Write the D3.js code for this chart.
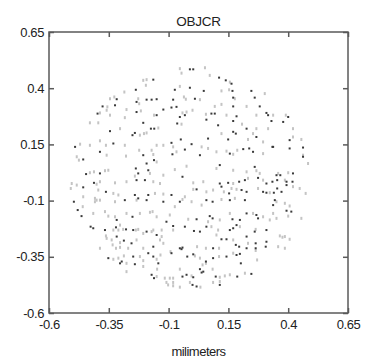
<!DOCTYPE html>
<html>
<head>
<meta charset="utf-8">
<script src="https://cdn.jsdelivr.net/npm/d3@7"></script>
<style>
  html, body { margin: 0; padding: 0; background: #fff; }
  svg text { font-family: "Liberation Sans", Arial, sans-serif; fill: #222; }
</style>
</head>
<body>
<svg id="chart" width="366" height="362"></svg>
<script>
// Axis setup
const tickValues = [-0.6, -0.35, -0.1, 0.15, 0.4, 0.65];
const tickLabels = ["-0.6", "-0.35", "-0.1", "0.15", "0.4", "0.65"];
const titleText = "OBJCR";
const xLabelText = "milimeters";

// Dark points (x, y in millimeters)
const darkX = [-0.011,0.003,0.111,-0.164,0.139,0.163,
  -0.237,-0.011,-0.074,0.047,0.167,0.246,
  -0.317,-0.192,-0.171,-0.150,-0.234,0.010,0.170,0.260,-0.081,-0.324,-0.376,-0.067,0.170,0.281,
  -0.397,-0.234,-0.150,-0.122,-0.088,-0.053,-0.032,0.079,0.093,0.184,0.309,0.316,0.400,
  -0.206,-0.174,-0.160,-0.064,0.058,0.107,0.170,0.226,0.330,0.379,-0.345,-0.251,-0.241,
  -0.331,-0.088,-0.049,-0.004,0.065,0.149,0.170,0.181,0.267,0.337,0.406,-0.491,
  -0.387,-0.206,-0.084,-0.032,0.031,0.156,0.212,0.237,0.253,0.334,0.406,0.462,0.462,-0.457,
  -0.445,-0.387,-0.237,-0.227,-0.192,-0.185,-0.161,0.114,0.260,0.367,0.420,0.351,
  -0.457,-0.412,-0.362,-0.234,-0.199,-0.042,0.114,0.149,0.195,0.219,0.274,0.309,0.334,0.354,0.393,0.418,
  -0.496,-0.241,-0.227,-0.185,-0.088,0.017,0.121,0.153,0.205,0.226,0.295,0.309,0.340,0.354,0.372,0.393,
  -0.283,-0.192,-0.122,-0.053,0.058,0.084,0.156,0.219,0.337,0.344,-0.480,
  -0.464,-0.317,-0.251,-0.109,0.017,0.072,0.084,0.167,0.198,0.226,0.267,0.274,0.393,0.413,
  -0.426,-0.415,-0.366,-0.320,-0.278,-0.248,-0.192,-0.150,-0.081,-0.032,0.006,0.031,0.058,0.121,0.156,0.170,0.184,0.226,0.260,0.309,-0.317,
  -0.287,-0.255,-0.164,-0.053,-0.042,0.086,0.142,0.181,0.195,0.226,0.264,0.264,0.306,0.309,
  -0.352,-0.303,-0.296,-0.248,-0.241,-0.185,-0.164,-0.143,-0.088,-0.046,-0.022,0.003,0.056,0.086,0.142,0.184,0.198,0.202,
  -0.171,-0.161,-0.042,-0.025,0.003,0.031,0.038,0.045,0.097,0.187,0.246,
  0.000,0.017,0.114];
const darkY = [0.484,0.484,0.447,0.438,0.435,0.420,
  0.393,0.402,0.393,0.388,0.388,0.388,
  0.351,0.349,0.349,0.351,0.339,0.353,0.358,0.358,0.349,0.324,0.319,0.317,0.319,0.319,
  0.287,0.294,0.280,0.305,0.314,0.272,0.280,0.287,0.287,0.275,0.290,0.280,0.272,
  0.246,0.220,0.220,0.243,0.260,0.235,0.254,0.220,0.254,0.250,0.209,0.191,0.201,
  0.154,0.157,0.172,0.151,0.176,0.172,0.206,0.198,0.183,0.139,0.169,0.139,
  0.117,0.102,0.106,0.127,0.102,0.109,0.129,0.132,0.117,0.139,0.132,0.136,0.095,0.083,
  0.018,0.021,0.043,0.021,0.065,0.035,0.080,0.058,0.050,0.013,0.021,0.013,
  -0.041,-0.021,-0.061,-0.009,-0.009,0.006,-0.024,-0.021,-0.016,-0.009,0.001,-0.024,-0.016,-0.009,-0.016,-0.016,
  -0.105,-0.075,-0.090,-0.075,-0.075,-0.050,-0.038,-0.068,-0.053,-0.061,-0.061,-0.065,-0.065,-0.046,-0.061,-0.031,
  -0.098,-0.098,-0.105,-0.105,-0.098,-0.105,-0.098,-0.098,-0.120,-0.098,-0.142,
  -0.169,-0.186,-0.172,-0.194,-0.183,-0.169,-0.179,-0.183,-0.186,-0.157,-0.164,-0.179,-0.145,-0.149,
  -0.216,-0.223,-0.231,-0.219,-0.228,-0.231,-0.238,-0.253,-0.213,-0.216,-0.235,-0.238,-0.216,-0.272,-0.231,-0.223,-0.209,-0.260,-0.238,-0.231,-0.260,
  -0.278,-0.290,-0.305,-0.312,-0.309,-0.312,-0.272,-0.297,-0.305,-0.312,-0.290,-0.312,-0.305,-0.283,
  -0.356,-0.379,-0.371,-0.349,-0.383,-0.334,-0.349,-0.379,-0.334,-0.316,-0.349,-0.339,-0.371,-0.356,-0.349,-0.342,-0.337,-0.379,
  -0.430,-0.445,-0.438,-0.430,-0.441,-0.405,-0.420,-0.416,-0.438,-0.438,-0.426,
  -0.475,-0.482,-0.475];

// Gray points (x, y in millimeters)
const grayX = [-0.053,0.052,-0.046,0.072,-0.192,-0.206,0.156,
  -0.195,-0.053,0.121,0.153,0.302,-0.285,
  -0.327,-0.345,-0.227,-0.223,-0.036,-0.028,0.031,0.177,-0.356,0.093,0.121,0.226,
  -0.387,-0.359,-0.345,-0.276,-0.216,-0.161,-0.042,-0.025,0.000,0.056,0.142,0.267,0.337,0.390,
  -0.429,-0.394,-0.283,-0.143,-0.046,0.207,0.267,0.316,0.420,-0.303,-0.220,-0.203,-0.192,
  -0.387,-0.362,-0.283,-0.150,-0.122,-0.081,0.038,0.121,0.232,0.253,0.295,0.420,0.455,-0.470,-0.429,
  -0.359,-0.278,-0.223,-0.171,-0.164,-0.067,0.065,0.100,0.142,0.170,0.187,0.295,0.462,0.483,-0.484,-0.475,
  -0.429,-0.412,-0.366,-0.352,-0.178,-0.150,-0.122,-0.074,-0.025,0.100,0.170,0.226,0.267,0.281,0.358,0.400,
  -0.505,-0.509,-0.484,-0.401,-0.387,-0.324,-0.276,-0.241,-0.164,-0.136,0.003,0.045,0.170,0.232,0.295,0.386,0.420,
  -0.457,-0.408,-0.401,-0.394,-0.331,-0.310,-0.234,-0.157,-0.122,-0.032,0.003,0.058,0.086,0.131,0.163,0.184,0.274,0.323,0.448,0.473,
  -0.459,-0.408,-0.387,-0.324,-0.074,-0.042,-0.004,0.038,0.121,0.177,0.351,0.386,0.406,
  -0.415,-0.366,-0.352,-0.324,-0.276,-0.220,-0.178,-0.167,-0.150,-0.095,-0.018,0.065,0.114,0.156,0.253,0.295,0.323,0.351,0.337,0.400,0.455,
  -0.362,-0.359,-0.331,-0.310,-0.303,-0.290,-0.237,-0.227,-0.206,-0.171,-0.164,-0.129,-0.129,-0.081,0.079,0.100,0.107,0.198,0.264,0.365,0.376,0.386,0.406,-0.303,
  -0.387,-0.338,-0.334,-0.320,-0.303,-0.269,-0.234,-0.206,-0.136,-0.122,-0.092,0.019,0.056,0.111,0.170,0.232,0.264,0.358,0.386,
  -0.331,-0.310,-0.287,-0.276,-0.220,-0.206,-0.206,-0.150,-0.134,0.010,0.031,0.111,0.170,0.270,0.042,0.056,
  -0.276,-0.150,-0.148,-0.116,-0.095,-0.081,-0.053,-0.004,0.084,0.114,0.135,0.156,0.219,
  -0.109,-0.102,-0.081,-0.081,-0.053,-0.011,0.033,0.086,0.114];
const grayY = [0.487,0.491,0.467,0.457,0.438,0.435,0.427,
  0.413,0.408,0.388,0.393,0.376,0.383,
  0.361,0.353,0.353,0.331,0.361,0.351,0.349,0.353,0.317,0.319,0.328,0.319,
  0.290,0.302,0.280,0.305,0.299,0.280,0.290,0.294,0.302,0.284,0.280,0.280,0.280,0.280,
  0.246,0.246,0.269,0.223,0.240,0.240,0.220,0.220,0.220,0.220,0.191,0.198,0.201,
  0.166,0.146,0.146,0.146,0.146,0.139,0.139,0.198,0.172,0.198,0.161,0.183,0.172,0.151,0.146,
  0.102,0.098,0.124,0.124,0.105,0.117,0.132,0.117,0.120,0.106,0.124,0.109,0.102,0.065,0.095,0.080,
  0.024,0.028,0.033,0.035,0.021,0.072,0.013,0.038,0.053,0.043,0.035,0.028,0.033,0.021,0.021,0.024,
  -0.024,-0.046,-0.031,-0.027,-0.016,-0.021,-0.016,0.009,-0.016,-0.024,-0.021,-0.016,-0.024,-0.001,-0.009,-0.009,-0.038,
  -0.083,-0.090,-0.098,-0.053,-0.068,-0.075,-0.098,-0.068,-0.071,-0.083,-0.050,-0.061,-0.053,-0.061,-0.046,-0.050,-0.046,-0.065,-0.046,-0.068,
  -0.127,-0.105,-0.098,-0.105,-0.127,-0.095,-0.105,-0.120,-0.095,-0.090,-0.105,-0.112,-0.124,
  -0.157,-0.149,-0.169,-0.172,-0.157,-0.157,-0.152,-0.149,-0.172,-0.164,-0.183,-0.194,-0.186,-0.157,-0.157,-0.172,-0.186,-0.179,-0.157,-0.169,-0.179,
  -0.257,-0.268,-0.231,-0.231,-0.209,-0.228,-0.231,-0.228,-0.246,-0.238,-0.231,-0.260,-0.231,-0.231,-0.216,-0.253,-0.231,-0.216,-0.228,-0.257,-0.263,-0.260,-0.272,-0.287,
  -0.312,-0.275,-0.297,-0.312,-0.308,-0.312,-0.275,-0.312,-0.275,-0.290,-0.327,-0.305,-0.312,-0.312,-0.275,-0.290,-0.322,-0.305,-0.312,
  -0.361,-0.356,-0.346,-0.379,-0.349,-0.367,-0.393,-0.361,-0.342,-0.346,-0.356,-0.349,-0.334,-0.364,-0.386,-0.379,
  -0.416,-0.438,-0.405,-0.445,-0.445,-0.445,-0.405,-0.435,-0.405,-0.441,-0.435,-0.430,-0.423,
  -0.464,-0.475,-0.464,-0.479,-0.485,-0.464,-0.485,-0.464,-0.460];

const svg = d3.select("#chart");
const margin = {left: 49, right: 18, top: 32, bottom: 49};
const W = 366, H = 362;

const x = d3.scaleLinear().domain([-0.6, 0.65]).range([margin.left, W - margin.right]);
const y = d3.scaleLinear().domain([-0.6, 0.65]).range([H - margin.bottom, margin.top]);

const gray = d3.zip(grayX, grayY);
const dark = d3.zip(darkX, darkY);

// Scatter marks: light points first, dark points on top
svg.append("g").selectAll("rect").data(gray).join("rect")
  .attr("x", d => x(d[0]) - 1)
  .attr("y", d => y(d[1]) - 1.5)
  .attr("width", 2).attr("height", 3)
  .attr("fill", "#c4c4c4");

svg.append("g").selectAll("rect").data(dark).join("rect")
  .attr("x", d => x(d[0]) - 1)
  .attr("y", d => y(d[1]) - 1)
  .attr("width", 2).attr("height", 2)
  .attr("fill", "#3a3a3a");

// Boxed axes with inward ticks on every side
const axisColor = "#5a5a5a";
function styleAxis(g) {
  g.select(".domain").remove();
  g.selectAll(".tick line").attr("stroke", axisColor).attr("stroke-width", 1.5);
  g.selectAll(".tick text").attr("font-size", 13).attr("fill", "#2a2a2a")
    .attr("letter-spacing", "-0.4px");
}

const fmt = (d) => tickLabels[tickValues.indexOf(d)];

svg.append("g").attr("transform", `translate(0,${H - margin.bottom})`)
  .call(d3.axisBottom(x).tickValues(tickValues).tickFormat(fmt).tickSizeInner(-5).tickSizeOuter(0).tickPadding(7))
  .call(styleAxis);
svg.append("g").attr("transform", `translate(0,${margin.top})`)
  .call(d3.axisTop(x).tickValues(tickValues).tickFormat("").tickSizeInner(-5).tickSizeOuter(0))
  .call(styleAxis);
svg.append("g").attr("transform", `translate(${margin.left},0)`)
  .call(d3.axisLeft(y).tickValues(tickValues).tickFormat(fmt).tickSizeInner(-5).tickSizeOuter(0).tickPadding(5))
  .call(styleAxis);
svg.append("g").attr("transform", `translate(${W - margin.right},0)`)
  .call(d3.axisRight(y).tickValues(tickValues).tickFormat("").tickSizeInner(-5).tickSizeOuter(0))
  .call(styleAxis);

svg.append("rect")
  .attr("x", margin.left).attr("y", margin.top)
  .attr("width", W - margin.left - margin.right)
  .attr("height", H - margin.top - margin.bottom)
  .attr("fill", "none").attr("stroke", axisColor).attr("stroke-width", 1.5);

svg.append("text").attr("x", (margin.left + W - margin.right) / 2).attr("y", 26)
  .attr("text-anchor", "middle").attr("font-size", 13.5).attr("fill", "#2a2a2a")
  .attr("letter-spacing", "-0.3px").text(titleText);

svg.append("text").attr("x", (margin.left + W - margin.right) / 2).attr("y", 356)
  .attr("text-anchor", "middle").attr("font-size", 13).attr("fill", "#2a2a2a")
  .attr("letter-spacing", "-0.5px").text(xLabelText);
</script>
</body>
</html>
